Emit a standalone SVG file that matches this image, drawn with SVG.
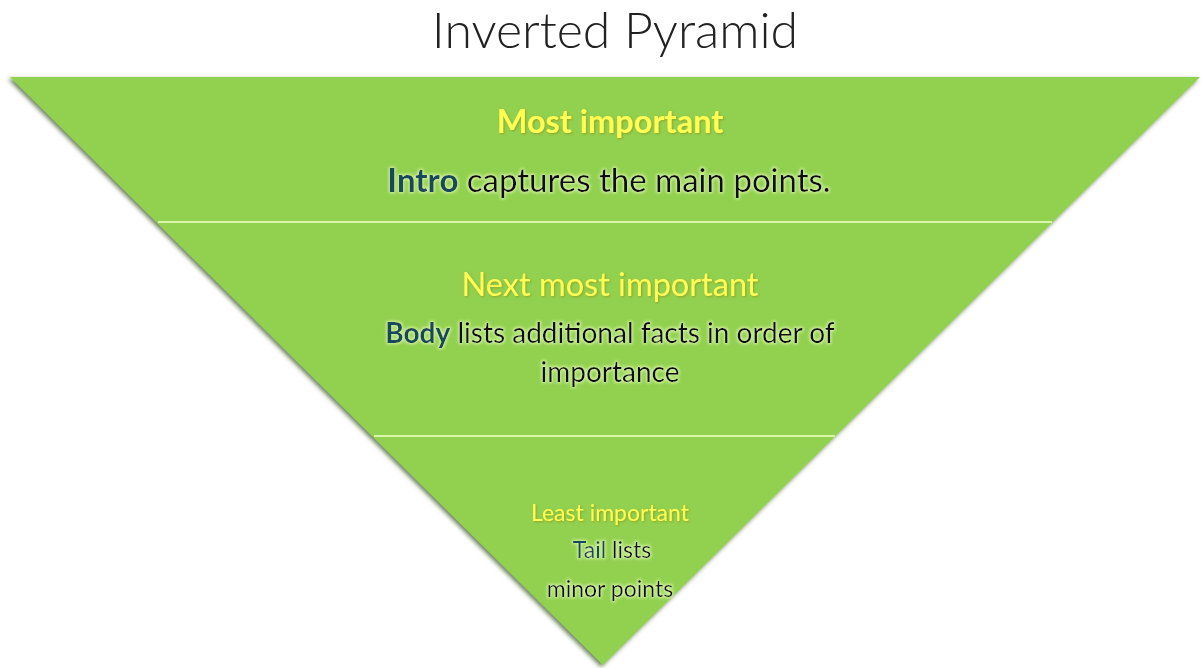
<svg xmlns="http://www.w3.org/2000/svg" width="1204" height="668" viewBox="0 0 1204 668">
<style>
.t{font-family:Lato,"Open Sans","Liberation Sans",sans-serif;text-anchor:middle}
.y{fill:#ffff55;filter:url(#ysh)}
.b{fill:#111;filter:url(#glow)}
.k{fill:#17485a;font-weight:bold}
.sep{stroke:#d9f5a8;stroke-width:2}
</style>
<defs>
<filter id="shadow" x="-5%" y="-5%" width="110%" height="115%">
<feDropShadow dx="-2" dy="2" stdDeviation="2" flood-color="#2a4a10" flood-opacity="0.7"/>
</filter>
<filter id="glow" x="-10%" y="-30%" width="120%" height="160%">
<feMorphology in="SourceAlpha" operator="dilate" radius="1.2" result="d"/>
<feGaussianBlur in="d" stdDeviation="1.5" result="bl"/>
<feFlood flood-color="#eaffc0" flood-opacity="0.75"/>
<feComposite in2="bl" operator="in" result="g"/>
<feMerge><feMergeNode in="g"/><feMergeNode in="SourceGraphic"/></feMerge>
</filter>
<filter id="ysh" x="-10%" y="-30%" width="120%" height="160%">
<feGaussianBlur in="SourceAlpha" stdDeviation="1" result="bl"/>
<feFlood flood-color="#8a8a10" flood-opacity="0.6"/>
<feComposite in2="bl" operator="in" result="g"/>
<feOffset in="g" dx="0.5" dy="0.5" result="o"/>
<feMerge><feMergeNode in="o"/><feMergeNode in="SourceGraphic"/></feMerge>
</filter>
</defs>
<rect width="1204" height="668" fill="#ffffff"/>
<text class="t" x="615" y="48" font-size="50" font-weight="300" fill="#222">Inverted Pyramid</text>
<g id="pyramid">
<polygon points="10,77 1200,77 603,665" fill="#92d050" filter="url(#shadow)"/>
</g>
<g id="connectors">
<line class="sep" x1="158" y1="222" x2="1052" y2="222"/>
<line class="sep" x1="374" y1="436" x2="835" y2="436"/>
</g>
<g id="top">
<text class="t y" x="610" y="133" font-size="32.5" font-weight="bold">Most important</text>
<text class="t b" x="609" y="192" font-size="33"><tspan class="k">Intro</tspan> captures the main points.</text>
</g>
<g id="middle">
<text class="t y" x="610" y="296" font-size="32.5">Next most important</text>
<text class="t b" x="610" y="343" font-size="28"><tspan class="k">Body</tspan> lists additional facts in order of</text>
<text class="t b" x="610" y="382" font-size="28">importance</text>
</g>
<g id="bottom">
<text class="t y" x="610" y="521" font-size="23">Least important</text>
<text class="t b" x="612" y="558" font-size="23"><tspan class="k" style="font-weight:normal">Tail</tspan> lists</text>
<text class="t b" x="610" y="597" font-size="23">minor points</text>
</g>
</svg>
